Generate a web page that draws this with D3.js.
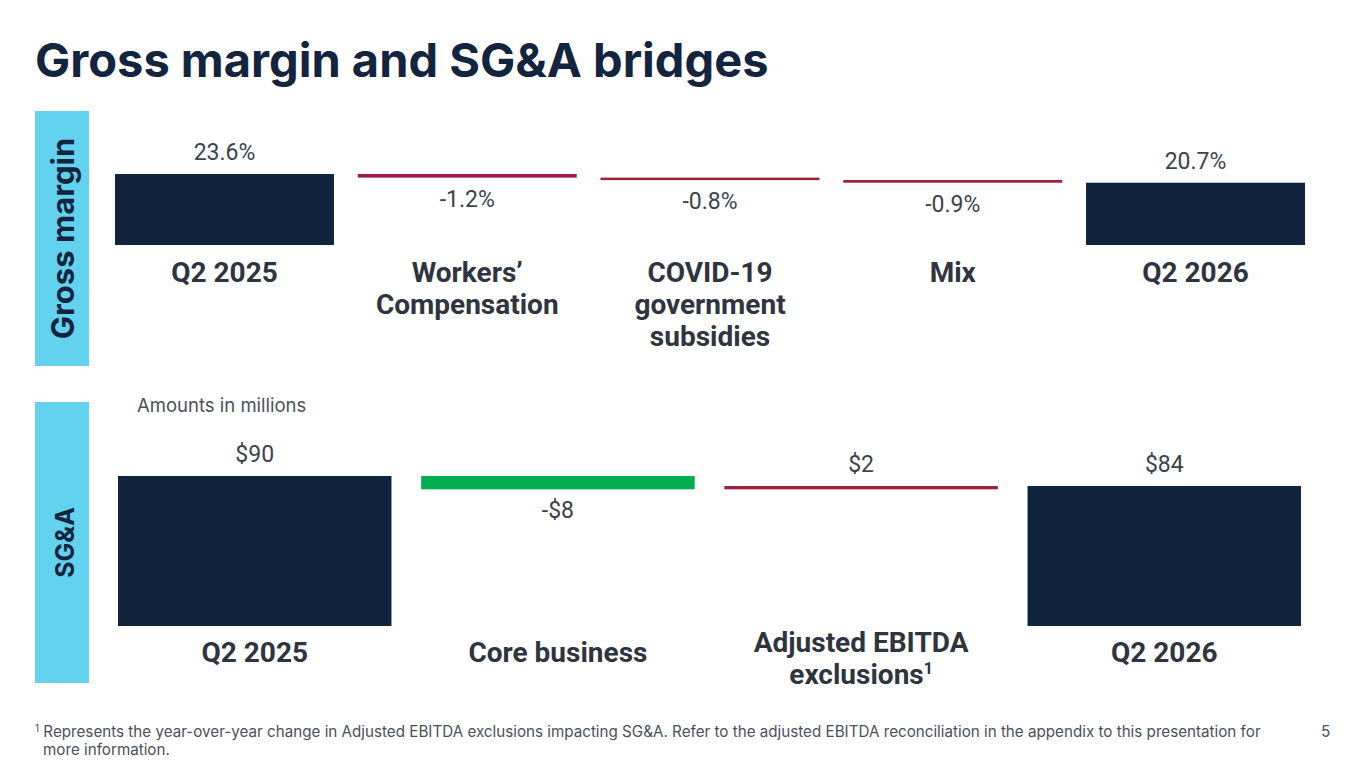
<!DOCTYPE html>
<html lang="en">
<head>
  <meta charset="UTF-8" />
  <title>Gross margin and SG&amp;A bridges</title>
  <script src="https://d3js.org/d3.v7.min.js"></script>
  <style>
    body {
      margin: 0;
      overflow: hidden;
      background: #fff;
    }
    text {
      font-family: Inter, "Noto Sans", sans-serif;
    }
    .title {
      font-weight: 700;
      fill: #13243f;
    }
    .side {
      font-weight: 700;
      fill: #13243f;
    }
    .val {
      font-family: Roboto, Inter, sans-serif;
      fill: #3b4350;
      font-size: 23px;
    }
    .cat {
      font-family: Roboto, Inter, sans-serif;
      fill: #2e3540;
      font-size: 28px;
      font-weight: 700;
    }
    .note {
      fill: #4a515c;
      font-size: 15.2px;
    }
  </style>
</head>
<body>
<svg width="1365" height="768"></svg>
<script>
// gross margin bridge (percent)
const gmCategories = [["Q2 2025"], ["Workers’", "Compensation"], ["COVID-19", "government", "subsidies"], ["Mix"], ["Q2 2026"]];
const gmValues = [23.6, -1.2, -0.8, -0.9, 20.7];
const gmKinds = ["total", "delta", "delta", "delta", "total"];

// SG&A bridge ($ millions)
const sgaCategories = [["Q2 2025"], ["Core business"], ["Adjusted EBITDA", "exclusions|1"], ["Q2 2026"]];
const sgaValues = [90, -8, 2, 84];
const sgaKinds = ["total", "delta", "delta", "total"];

const navy = "#10243e", red = "#9e1f40", green = "#00ad4f", cyan = "#62d2ee";

const svg = d3.select("svg");

svg.append("text")
  .attr("class", "title")
  .attr("x", 35).attr("y", 77)
  .style("font-size", "47px")
  .text("Gross margin and SG&A bridges");

// side tabs
function sideTab(y0, y1, label, size) {
  svg.append("rect")
    .attr("x", 35).attr("y", y0)
    .attr("width", 54).attr("height", y1 - y0)
    .attr("fill", cyan);
  svg.append("text")
    .attr("class", "side")
    .attr("transform", `translate(74,${(y0 + y1) / 2}) rotate(-90)`)
    .attr("text-anchor", "middle")
    .style("font-size", size + "px")
    .text(label);
}
sideTab(111, 366, "Gross margin", 31);
sideTab(402, 683, "SG&A", 25);

// builds running totals for a waterfall
function steps(values, kinds) {
  let run = 0;
  return values.map((v, i) => {
    let a, b;
    if (kinds[i] === "total") { a = 0; b = v; run = v; }
    else { a = run; b = run + v; run = b; }
    return { i, v, kind: kinds[i], lo: Math.min(a, b), hi: Math.max(a, b) };
  });
}

function bridge(opts) {
  const data = steps(opts.values, opts.kinds);
  const x = d3.scaleBand()
    .domain(d3.range(opts.values.length))
    .range(opts.xr)
    .paddingInner(0.098)
    .paddingOuter(0);
  const y = d3.scaleLinear()
    .domain([0, opts.top])
    .range([opts.base, opts.topY]);

  const g = svg.append("g");

  g.selectAll("rect.bar")
    .data(data)
    .enter()
    .append("rect")
    .attr("class", "bar")
    .attr("x", d => x(d.i))
    .attr("width", x.bandwidth())
    .attr("y", d => y(d.hi))
    .attr("height", d => Math.max(2.5, y(d.lo) - y(d.hi)))
    .attr("fill", d => d.kind === "total" ? navy : (d.v * opts.badSign > 0 ? red : green));

  g.selectAll("text.val")
    .data(data)
    .enter()
    .append("text")
    .attr("class", "val")
    .attr("text-anchor", "middle")
    .attr("x", d => x(d.i) + x.bandwidth() / 2)
    .attr("y", d => (d.kind === "total" || d.v > 0) ? y(d.hi) - 14 : Math.max(y(d.lo), y(d.hi) + 2.5) + 29)
    .text(d => opts.fmt(d.v));

  const cats = g.selectAll("text.cat")
    .data(opts.categories)
    .enter()
    .append("text")
    .attr("class", "cat")
    .attr("text-anchor", "middle")
    .attr("x", (d, i) => x(i) + x.bandwidth() / 2)
    .attr("y", d => opts.base + opts.catOff - (opts.centerCats ? (d.length - 1) * 10 : 0));

  cats.each(function(lines) {
    const t = d3.select(this);
    lines.forEach((ln, k) => {
      const parts = ln.split("|");
      t.append("tspan")
        .attr("x", t.attr("x"))
        .attr("dy", k === 0 ? 0 : 32)
        .text(parts[0]);
      if (parts[1]) {
        t.append("tspan")
          .attr("dy", -10)
          .style("font-size", "16px")
          .text(parts[1]);
        t.append("tspan").attr("dy", 10).text("");
      }
    });
  });
}

bridge({
  categories: gmCategories, values: gmValues, kinds: gmKinds,
  xr: [115, 1305], base: 245, topY: 174, top: 23.6,
  badSign: -1, catOff: 37, centerCats: false,
  fmt: v => (v < 0 ? "-" : "") + Math.abs(v).toFixed(1) + "%"
});

svg.append("text")
  .attr("class", "note")
  .attr("x", 137).attr("y", 412)
  .style("font-size", "18.5px")
  .text("Amounts in millions");

bridge({
  categories: sgaCategories, values: sgaValues, kinds: sgaKinds,
  xr: [118, 1301], base: 626, topY: 476, top: 90,
  badSign: 1, catOff: 36, centerCats: true,
  fmt: v => (v < 0 ? "-$" : "$") + Math.abs(v)
});

// footnote
const fn = svg.append("text").attr("class", "note").attr("x", 35).attr("y", 737);
fn.append("tspan").attr("dy", -5).style("font-size", "10px").text("1");
fn.append("tspan").attr("dy", 5).text(" Represents the year-over-year change in Adjusted EBITDA exclusions impacting SG&A. Refer to the adjusted EBITDA reconciliation in the appendix to this presentation for");
svg.append("text").attr("class", "note").attr("x", 43).attr("y", 755).text("more information.");
svg.append("text").attr("class", "note").attr("x", 1321).attr("y", 737).text("5");
</script>
</body>
</html>
